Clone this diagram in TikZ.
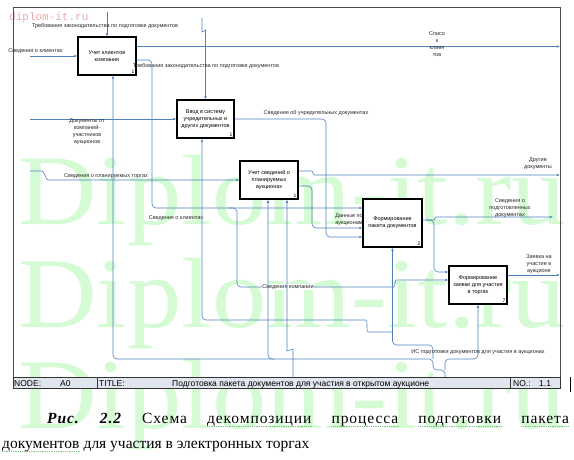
\documentclass[tikz,border=0pt]{standalone}
\usepackage{fontspec}
\setmainfont{Liberation Sans}
\newfontfamily\serifcap{Liberation Serif}
\newfontfamily\monomark{Liberation Mono}
\usetikzlibrary{arrows.meta,positioning,calc}
\definecolor{flowblue}{RGB}{79,129,189}
\definecolor{markgreen}{RGB}{212,251,212}
\definecolor{markpink}{RGB}{228,170,175}
\definecolor{barfill}{RGB}{224,229,238}
\definecolor{spellgreen}{RGB}{130,190,130}

\begin{document}
\begin{tikzpicture}[x=1pt, y=-1pt, >={Latex[length=3.2pt,width=2.6pt]},
  func/.style={draw=black, fill=white, line width=1.1pt, minimum width=58pt, minimum height=38pt, inner sep=1pt, align=center, font=\fontsize{5.5}{7}\selectfont},
  flow/.style={draw=flowblue, line width=0.6pt, rounded corners=4pt},
  lbl/.style={font=\fontsize{5.5}{7}\selectfont, text=black!85, inner sep=0.5pt, align=center},
  num/.style={font=\fontsize{5}{5}\selectfont, inner sep=1pt, anchor=south east},
  bar/.style={font=\fontsize{8.5}{9}\selectfont, inner sep=0, anchor=base west},
  captext/.style={font=\serifcap\fontsize{15.5}{18}\selectfont, inner sep=0, anchor=base west},
  capword/.style={font=\serifcap\fontsize{15.5}{18}\selectfont\addfontfeature{LetterSpace=6}, inner sep=0, anchor=base west},
  spell/.style={draw=spellgreen, line width=0.8pt, densely dotted},
  wmark/.style={font=\serifcap\fontsize{100}{100}\selectfont, text=markgreen, inner sep=0, anchor=base west}]
\useasboundingbox (0,0) rectangle (574,460);

  % Watermarks
\node[wmark] (wm1) at (18,224) {\scalebox{1.09}[1]{Diplom-it.ru}}; \node[wmark] (wm2) at (18,327) {\scalebox{1.09}[1]{Diplom-it.ru}}; \node[wmark] (wm3) at (18,428) {\scalebox{1.09}[1]{Diplom-it.ru}};
\node[font=\monomark\fontsize{11}{11}\selectfont, text=markpink, inner sep=0, anchor=base west] (wm0) at (9,21) {diplom-it.ru};

  % Frame and title bar
\coordinate (fTL) at (13,7); \coordinate (fBR) at (560,388); \coordinate (bTL) at (13,377);
\draw[black!70, line width=0.8pt] (fTL) rectangle (fBR);
\draw[fill=barfill, draw=black!80, line width=0.8pt] (bTL) rectangle (fBR);
\draw[black!80, line width=0.8pt] (97,377) -- (97,388) (510,377) -- (510,388);
\node[bar] (nodek) at (14,386) {NODE:}; \node[bar] (nodev) at (60,386) {A0}; \node[bar] (titlek) at (99,386) {TITLE:};
\node[bar] (titlev) at (172,386) {Подготовка пакета документов для участия в открытом аукционе};
\node[bar] (nok) at (513,386) {NO.:}; \node[bar] (nov) at (539,386) {1.1};
\draw[line width=1pt] (570,377) -- (570,392);

  % Functions
\node[func] (clients) at (107,56) {Учет клиентов\\компании}; \node[func, minimum width=57pt] (regdocs) at (205.5,119) {Ввод в систему\\учредительных и\\других документов}; \node[func] (auctions) at (269,180) {Учет сведений о\\планируемых\\аукционах}; \node[func, minimum width=59pt, minimum height=48pt] (package) at (392.5,223) {Формирование\\пакета документов}; \node[func] (bid) at (478,285) {Формирование\\заявки для участия\\в торгах};
\node[num] (n1) at ([xshift=-1pt,yshift=1pt]clients.south east) {1}; \node[num] (n2) at ([xshift=-1pt,yshift=1pt]regdocs.south east) {1}; \node[num] (n3) at ([xshift=-1pt,yshift=1pt]auctions.south east) {1}; \node[num] (n4) at ([xshift=-1pt,yshift=1pt]package.south east) {2}; \node[num] (n5) at ([xshift=-1pt,yshift=1pt]bid.south east) {7};

  % Controls
\coordinate (req1) at (107,12); \coordinate (req2) at (202,18);
\draw[flow,->] (req1) -- (clients.north);
\draw[flow,->] (req2) -- (202,28) to[out=-90,in=90] (205.5,34) -- (regdocs.north);
\node[lbl] (req1l) at (105,26) {Требования законодательства по подготовке документов}; \node[lbl] (req2l) at (206,66) {Требования законодательства по подготовке документов};

  % Inputs
\coordinate (in1) at (30,56); \coordinate (in2) at (30,119); \coordinate (in3) at (30,171);
\draw[flow,->] (in1) -- (clients.west); \draw[flow,->] (in2) -- (regdocs.west);
\draw[flow,->] (in3) -- (38,171) to[out=0,in=180] (52,180) -- (auctions.west);
\node[lbl] (in1l) at (35.5,51.5) {Сведения о клиентах}; \node[lbl] (in2l) at (87,132) {Документы от\\компаний-\\участников\\аукционов}; \node[lbl] (in3l) at (106,176) {Сведения о планируемых торгах};

  % Links between functions
\draw[flow,->] ([yshift=-4pt]clients.east) -| (152,208) -- ([yshift=15pt]package.west);
\draw[flow,->] (228,208) -| (237,287) -- (390,287) to[out=0,in=180] (400,280) -- ([yshift=5pt]bid.west);
\draw[flow,->] (regdocs.east) -| (326,237) -- ([yshift=-14pt]package.west);
\draw[flow,->] ([yshift=-6pt]auctions.east) -| (312,228) -- ([yshift=-5pt]package.west);
\draw[flow,->] (426,220) -| (434,272) -- ([yshift=13pt]bid.west);
\node[lbl] (sk1) at (176,218) {Сведения о клиентах}; \node[lbl, fill=white] (sk2) at (288,287) {Сведения компании}; \node[lbl] (ud) at (316,113) {Сведения об учредительных документах}; \node[lbl] (da) at (349,220) {Данные по\\аукционам};

  % Outputs
\coordinate (out1) at (560,46.5); \coordinate (out2) at (560,175); \coordinate (out3) at (553,217); \coordinate (out4) at (560,275);
\draw[flow,->] (clients.east |- out1) -- (out1);
\draw[flow,->] ([yshift=9pt]auctions.east) -- (308,171) to[out=0,in=180] (318,175) -- (out2);
\draw[flow,->] ([yshift=3pt]package.east) -- (430,220) to[out=0,in=180] (440,217) -- (out3);
\draw[flow,->] (bid.east |- out4) -- (out4);
\node[lbl] (out1l) at (437,44) {Списо\\к\\клиен\\тов}; \node[lbl] (out2l) at (538,164) {Другие\\документы}; \node[lbl] (out3l) at (510,208) {Сведения о\\подготовленных\\документах}; \node[lbl] (out4l) at (539,264) {Заявка на\\участие в\\аукционе};

  % Mechanisms
\coordinate (mech) at (445,377); \coordinate (mech2) at (293,377);
\draw[flow,->] (mech) -- (445,370) -- (433,370) -- (433,359) -| ([xshift=6pt]clients.south);
\draw[flow,->] (274,359) -| ([xshift=-1pt]auctions.south);
\draw[flow,->] (445,370) |- (460,359) -| (bid.south);
\draw[flow,->] (433,359) |- (400,345) -| (package.south);
\draw[flow,->] (392.5,332) -- (372,332) to[out=180,in=0] (362,320) -| ([xshift=-3.5pt]regdocs.south);
\draw[flow,->] (mech2) -- (293,353) to[out=90,in=-90] (287,347) -- ([xshift=18pt]auctions.south);
\node[lbl] (isl) at (478,352) {ИС подготовки документов для участия в аукционах};

  % Caption
\node[capword] (c1) at (47,423) {\textbf{\textit{Рис.}}}; \node[capword] (c2) at ([xshift=19.7pt]c1.base east) {\textbf{\textit{2.2}}}; \node[capword] (c3) at ([xshift=19.7pt]c2.base east) {Схема}; \node[capword] (c4) at ([xshift=19.7pt]c3.base east) {декомпозиции}; \node[capword] (c5) at ([xshift=19.7pt]c4.base east) {процесса}; \node[capword] (c6) at ([xshift=19.7pt]c5.base east) {подготовки}; \node[capword] (c7) at ([xshift=19.7pt]c6.base east) {пакета};
\node[captext] (c8) at (2,448) {документов}; \node[captext] (c9) at ([xshift=3.9pt]c8.base east) {для участия в электронных торгах};
\draw[spell] ([yshift=-3pt]c4.base west) -- ([yshift=-3pt]c4.base east); \draw[spell] ([yshift=-3pt]c5.base west) -- ([yshift=-3pt]c5.base east); \draw[spell] ([yshift=-3pt]c6.base west) -- ([yshift=-3pt]c6.base east); \draw[spell] ([yshift=-3pt]c7.base west) -- ([yshift=-3pt]c7.base east); \draw[spell] ([yshift=-3pt]c8.base west) -- ([yshift=-3pt]c8.base east);

\end{tikzpicture}
\end{document}
